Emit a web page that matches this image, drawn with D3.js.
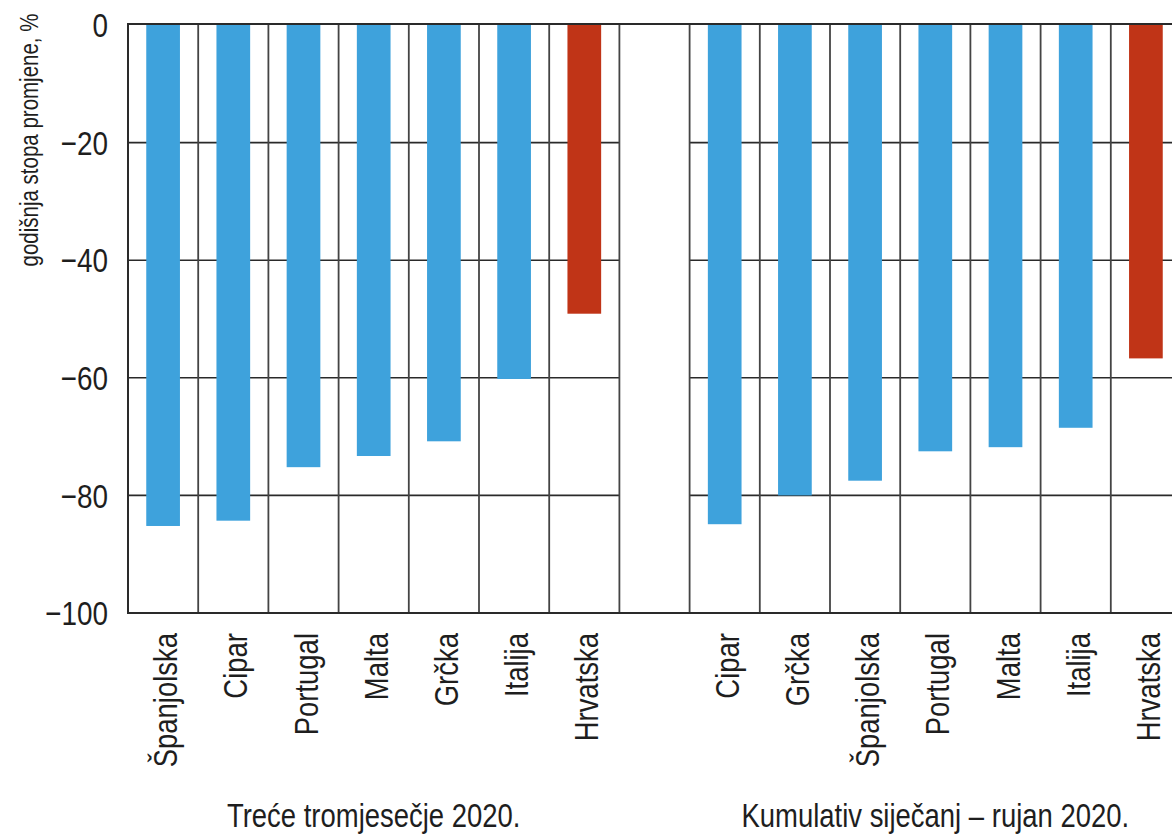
<!DOCTYPE html>
<html>
<head>
<meta charset="utf-8">
<script src="https://cdn.jsdelivr.net/npm/d3@7"></script>
<style>
  body { margin: 0; background: #fff; }
  svg text { font-family: "Liberation Sans", Arial, sans-serif; fill: #1e1e1e; }
</style>
</head>
<body>
<div id="chart"></div>
<script>
var quarterCountries = ["Španjolska", "Cipar", "Portugal", "Malta", "Grčka", "Italija", "Hrvatska"];
var quarterValues = [-85.2, -84.3, -75.2, -73.3, -70.8, -60.2, -49.1];
var cumulativeCountries = ["Cipar", "Grčka", "Španjolska", "Portugal", "Malta", "Italija", "Hrvatska"];
var cumulativeValues = [-84.9, -80.0, -77.5, -72.5, -71.8, -68.5, -56.7];
var groupTitles = ["Treće tromjesečje 2020.", "Kumulativ siječanj – rujan 2020."];
var yTicks = [0, -20, -40, -60, -80, -100];
var highlight = "Hrvatska";
var yTitle = "godišnja stopa promjene, %";

var width = 1172, height = 836;
var blue = "#3ea2dc", red = "#c03417", lineColor = "#2a2a2a";
var narrow = "scale(0.82,1)"; // condensed look, like Arial Narrow

// one slot per bar, plus an empty slot between the two groups
var rows = [];
quarterCountries.forEach(function(c, i) {
  rows.push({ key: "q" + i, name: c, value: quarterValues[i], group: 0 });
});
rows.push({ key: "gap", name: "", value: null, group: -1 });
cumulativeCountries.forEach(function(c, i) {
  rows.push({ key: "c" + i, name: c, value: cumulativeValues[i], group: 1 });
});

var svg = d3.select("#chart").append("svg")
  .attr("width", width)
  .attr("height", height);

var x = d3.scaleBand()
  .domain(rows.map(d => d.key))
  .range([128, 1181])
  .padding(0);

var xBar = d3.scaleBand()
  .domain(rows.map(d => d.key))
  .range([128, 1181])
  .paddingInner(0.52)
  .paddingOuter(0.26);

var y = d3.scaleLinear()
  .domain([-100, 0])
  .range([613, 25]);

// horizontal gridlines, only inside the two groups
var gridTicks = yTicks.filter(t => t !== 0 && t !== -100);
var cells = [];
rows.filter(d => d.group >= 0).forEach(function(d) {
  gridTicks.forEach(function(t) { cells.push({ key: d.key, t: t }); });
});
svg.append("g").selectAll("line")
  .data(cells)
  .enter().append("line")
  .attr("x1", d => x(d.key))
  .attr("x2", d => x(d.key) + x.bandwidth())
  .attr("y1", d => y(d.t))
  .attr("y2", d => y(d.t))
  .attr("stroke", lineColor)
  .attr("stroke-width", 1.6);

// bars
svg.append("g").selectAll("rect")
  .data(rows.filter(d => d.value !== null))
  .enter().append("rect")
  .attr("x", d => xBar(d.key))
  .attr("width", xBar.bandwidth())
  .attr("y", y(0))
  .attr("height", d => y(d.value) - y(0))
  .attr("fill", d => d.name === highlight ? red : blue);

// vertical slot separators
svg.append("g").selectAll("line")
  .data(rows.slice(1))
  .enter().append("line")
  .attr("x1", d => x(d.key))
  .attr("x2", d => x(d.key))
  .attr("y1", y(0))
  .attr("y2", y(-100))
  .attr("stroke", "#444")
  .attr("stroke-width", 1.8);

// frame: top, bottom, left
svg.append("line")
  .attr("x1", x.range()[0]).attr("x2", width)
  .attr("y1", y(0) - 1).attr("y2", y(0) - 1)
  .attr("stroke", lineColor).attr("stroke-width", 2);
svg.append("line")
  .attr("x1", x.range()[0]).attr("x2", width)
  .attr("y1", y(-100)).attr("y2", y(-100))
  .attr("stroke", lineColor).attr("stroke-width", 2);
svg.append("line")
  .attr("x1", x.range()[0]).attr("x2", x.range()[0])
  .attr("y1", y(0) - 2).attr("y2", y(-100) + 1)
  .attr("stroke", lineColor).attr("stroke-width", 2);

// y tick labels
svg.append("g").selectAll("text")
  .data(yTicks)
  .enter().append("text")
  .attr("transform", d => "translate(108," + y(d) + ") " + narrow)
  .attr("dy", "0.36em")
  .attr("text-anchor", "end")
  .style("font-size", "34px")
  .text(d => d === 0 ? "0" : "\u2212" + Math.abs(d));

// y axis title
svg.append("text")
  .attr("transform", "translate(38,140) rotate(-90) " + narrow)
  .attr("text-anchor", "middle")
  .style("font-size", "25px")
  .text(yTitle);

// category labels
svg.append("g").selectAll("text")
  .data(rows.filter(d => d.group >= 0))
  .enter().append("text")
  .attr("transform", d => "translate(" + (x(d.key) + x.bandwidth() / 2 + 2) + ",633) rotate(-90) " + narrow)
  .attr("dy", "0.36em")
  .attr("text-anchor", "end")
  .style("font-size", "33.5px")
  .text(d => d.name);

// group titles
groupTitles.forEach(function(t, g) {
  var keys = rows.filter(d => d.group === g).map(d => d.key);
  var cx = (x(keys[0]) + x(keys[keys.length - 1]) + x.bandwidth()) / 2;
  svg.append("text")
    .attr("transform", "translate(" + cx + ",827) " + narrow)
    .attr("text-anchor", "middle")
    .style("font-size", "33.5px")
    .text(t);
});
</script>
</body>
</html>
